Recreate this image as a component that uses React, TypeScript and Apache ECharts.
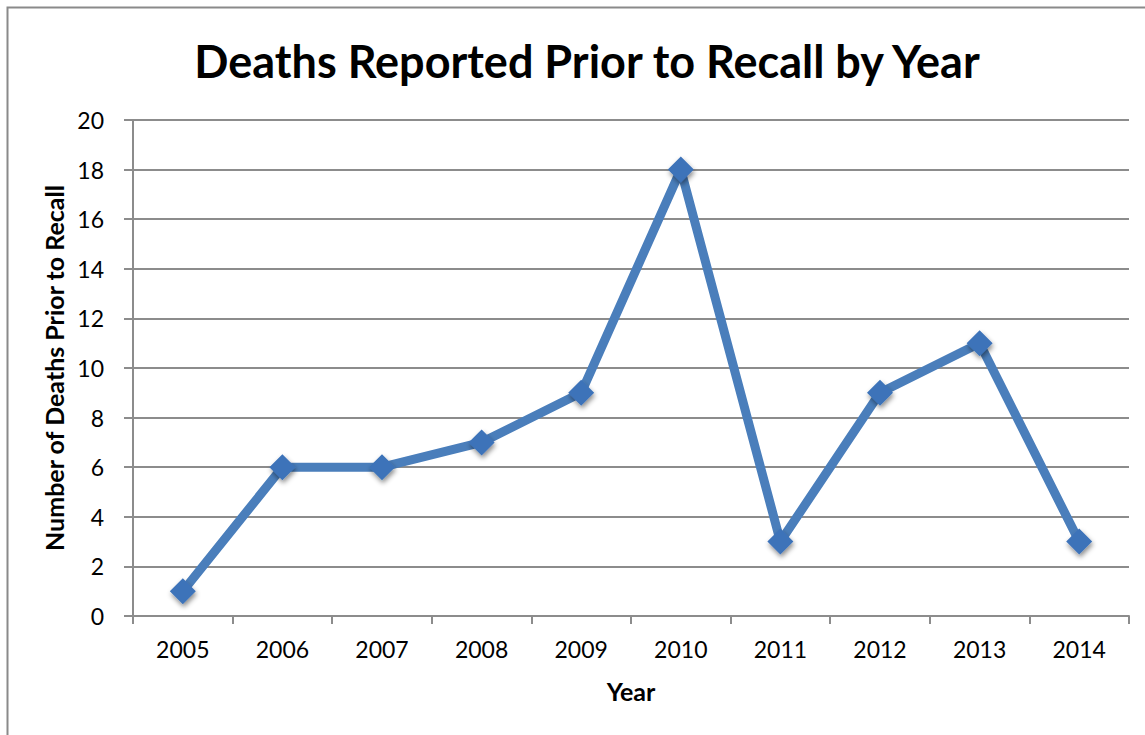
import React, { useEffect, useRef } from "react";
import * as echarts from "echarts";

const years = ["2005", "2006", "2007", "2008", "2009", "2010", "2011", "2012", "2013", "2014"];
const deaths = [1, 6, 6, 7, 9, 18, 3, 9, 11, 3];

const FONT = "Lato, 'Open Sans', sans-serif";
const LINE = "#4a7ebb";
const MARK = "#3d73b9";
const GRID = "#8c8c8c";

export default function App() {
  const ref = useRef<HTMLDivElement>(null);

  useEffect(() => {
    if (!ref.current) return;
    const chart = echarts.init(ref.current, null, { renderer: "svg" });
    chart.setOption({
      animation: false,
      backgroundColor: "#ffffff",
      graphic: [
        {
          type: "rect",
          shape: { x: 7.5, y: 7.5, width: 1150, height: 740 },
          style: { fill: "none", stroke: "#8a8a8a", lineWidth: 2 },
          z: -1,
        },
      ],
      title: {
        text: "Deaths Reported Prior to Recall by Year",
        left: 582,
        top: 33,
        textAlign: "center",
        textStyle: { fontFamily: FONT, fontWeight: "bold", fontSize: 45, color: "#000" },
      },
      grid: { left: 133, right: 16, top: 120, bottom: 119, containLabel: false },
      xAxis: {
        type: "category",
        data: years,
        boundaryGap: true,
        name: "Year",
        nameLocation: "middle",
        nameGap: 62,
        nameTextStyle: { fontFamily: FONT, fontWeight: "bold", fontSize: 25, color: "#000" },
        axisLine: { lineStyle: { color: GRID, width: 2 } },
        axisTick: { show: true, length: 8, lineStyle: { color: GRID, width: 2 } },
        axisLabel: { fontFamily: FONT, fontSize: 23, color: "#000", margin: 21 },
      },
      yAxis: {
        type: "value",
        min: 0,
        max: 20,
        interval: 2,
        name: "Number of Deaths Prior to Recall",
        nameLocation: "middle",
        nameGap: 63,
        nameTextStyle: { fontFamily: FONT, fontWeight: "bold", fontSize: 25, color: "#000" },
        axisLine: { show: true, lineStyle: { color: GRID, width: 2 } },
        axisTick: { show: true, length: 9, lineStyle: { color: GRID, width: 2 } },
        axisLabel: { fontFamily: FONT, fontSize: 23, color: "#000", margin: 29 },
        splitLine: { lineStyle: { color: GRID, width: 2 } },
      },
      series: [
        {
          type: "line",
          data: deaths,
          symbol: "diamond",
          symbolSize: 26,
          lineStyle: { color: LINE, width: 9 },
          itemStyle: {
            color: MARK,
            shadowBlur: 5,
            shadowColor: "rgba(0,0,0,0.45)",
            shadowOffsetX: 1,
            shadowOffsetY: 3,
          },
        },
      ],
    });
    return () => chart.dispose();
  }, []);

  return (
    <div
      ref={ref}
      style={{ position: "fixed", left: 0, top: 0, width: 1145, height: 735, background: "#fff" }}
    />
  );
}
